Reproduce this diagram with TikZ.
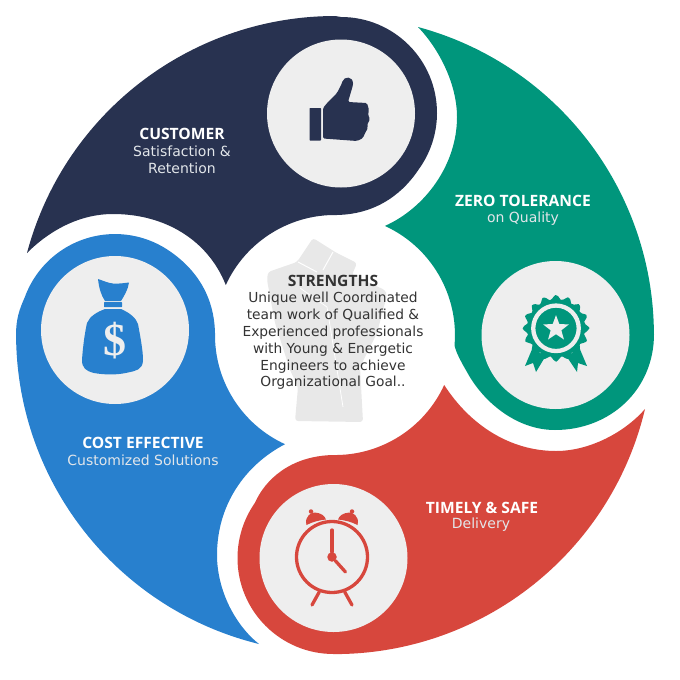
\documentclass[tikz,border=0pt]{standalone}
\usepackage{fontspec}
\usepackage{tikz}
\usetikzlibrary{shapes.geometric}
\setmainfont{DejaVu Sans}
\newfontfamily\headfont{Open Sans}
\newfontfamily\dollarfont{Liberation Serif}
\definecolor{navy}{HTML}{283250}
\definecolor{teal}{HTML}{00967C}
\definecolor{brick}{HTML}{D7473D}
\definecolor{azure}{HTML}{2880CE}
\definecolor{disc}{HTML}{EEEEEE}
\definecolor{fist}{HTML}{E8E8E8}
\definecolor{ink}{HTML}{333333}
\definecolor{soft}{HTML}{E2E6EA}
\tikzset{
  iconcircle/.style={draw=none, circle, fill=disc, minimum size=148pt, inner sep=0pt},
  headtxt/.style={font=\headfont\bfseries\fontsize{15.6}{18}\selectfont, text=white, inner sep=0pt},
  bodytxt/.style={font=\fontsize{14}{17}\selectfont, text=soft, align=center, inner sep=0pt},
  clockline/.style={draw=brick, line width=3.3pt, line cap=round}
}

\begin{document}
\begin{tikzpicture}[x=1pt, y=-1pt]
\useasboundingbox (0,0) rectangle (680,680);
\fill[navy] (27,253) arc[start angle=194.9, end angle=270, radius=319] -- (341,17) arc[start angle=270, end angle=396, radius=96] .. controls (405,190) and (380,214) .. (337,215) arc[start angle=271, end angle=204.6, radius=120] .. controls (208,240) and (165,214) .. (113,214) .. controls (80,214) and (50,230) .. (27,253) -- cycle;
\fill[teal] (418,27) arc[start angle=285.1, end angle=360, radius=319] -- (654,334) .. controls (654,390) and (610,430) .. (555,430) .. controls (515,430) and (482,400) .. (467,372) .. controls (460,360) and (456,352) .. (454.5,345.5) arc[start angle=5, end angle=-65.4, radius=120] .. controls (425,208) and (457,165) .. (457,117) .. controls (457,85) and (440,50) .. (418,27) -- cycle;
\fill[brick] (645,409) arc[start angle=13.4, end angle=90, radius=319] -- (333.5,654) arc[start angle=90, end angle=215, radius=96] .. controls (265,480) and (290,456) .. (333,455) arc[start angle=91, end angle=24.6, radius=120] .. controls (470,425) and (510,451) .. (556,451) .. controls (590,451) and (625,432) .. (645,409) -- cycle;
\fill[azure] (259,644) arc[start angle=103.8, end angle=180, radius=319] .. controls (16,320) and (19,310) .. (24.8,297.2) arc[start angle=200, end angle=304.7, radius=96] .. controls (190,265) and (214,290) .. (215,333) arc[start angle=181, end angle=114.6, radius=120] .. controls (245,465) and (217,505) .. (217,555) .. controls (217,590) and (235,625) .. (259,644) -- cycle;

\fill[fist, rounded corners=3pt] (295,421) -- (298,387) -- (290,370) -- (275,323) -- (267,280) -- (268,272) -- (297,262) -- (313,238) -- (332,250) -- (335,252) -- (357,263) -- (352,275) -- (385,290) -- (387,295) -- (377,333) -- (360,367) -- (363,422) -- cycle;
\draw[white, line width=1pt] (323,270) -- (333,252);
\draw[white, line width=1pt] (298,262) -- (317,272);
\draw[white, line width=.8pt] (300,288) -- (327,307) -- (343,407);

\node[iconcircle] (thumbdisc) at (341,113.5) {};
\node[iconcircle] (badgedisc) at (555.5,335) {};
\node[iconcircle] (clockdisc) at (333.5,558) {};
\node[iconcircle] (bagdisc) at (115,330) {};

\fill[navy, rounded corners=.6pt] (309.5,108) rectangle (321,140.5);
\fill[navy, rounded corners=1.5pt] (323,108) -- (328,102) -- (337,93) -- (342,83) .. controls (344,76) and (353,76) .. (353,85) -- (348,102) -- (367,103) -- (369,110) -- (368,115) -- (370,119) -- (367,125) -- (368,128) -- (365,133) -- (363,138) -- (357,141) -- (323,138.5) -- cycle;

\fill[teal] plot[smooth cycle, samples=65, domain=0:358, shift={(556,328.3)}] (\x:{31+2.4*cos(16*\x)});
\fill[teal] (533,347) -- (525,366) -- (533,363) -- (536,372) -- (545,357) -- cycle;
\fill[teal] (579,347) -- (587,366) -- (578,363) -- (577,372) -- (567,357) -- cycle;
\node[draw=disc, line width=4.3pt, circle, fill=teal, minimum size=45.5pt, inner sep=0pt] (badgering) at (556,328.3) {};
\node[star, star points=5, star point ratio=2.4, fill=disc, minimum size=27pt, inner sep=0pt] (badgestar) at (556,328.6) {};

\node[draw=brick, line width=3.3pt, circle, minimum size=71pt, inner sep=0pt] (clockface) at (332,557) {};
\node[circle, fill=brick, minimum size=9.5pt, inner sep=0pt] (clockhub) at (332,557) {};
\coordinate (handup) at (332,530);
\coordinate (handlow) at (345.5,572);
\coordinate (legleft) at (312,605);
\coordinate (legright) at (352,605);
\draw[clockline] (clockhub) -- (handup);
\draw[clockline] (clockhub) -- (handlow);
\draw[clockline] (clockface.250) -- (legleft);
\draw[clockline] (clockface.290) -- (legright);
\fill[brick] (306.5,525) .. controls (304,516) and (312,512) .. (315,512.5) .. controls (321,513) and (325,516) .. (326,519.5) .. controls (320,520) and (312,522) .. (306.5,525) -- cycle;
\fill[brick] (357.5,525) .. controls (360,516) and (352,512) .. (349,512.5) .. controls (343,513) and (339,516) .. (338,519.5) .. controls (344,520) and (352,522) .. (357.5,525) -- cycle;
\node[circle, fill=brick, minimum size=4.5pt, inner sep=0pt] (bellleft) at (311,511.5) {};
\node[circle, fill=brick, minimum size=4.5pt, inner sep=0pt] (bellright) at (352,511.5) {};

\fill[azure] (98,279) .. controls (104,281) and (108,283) .. (113,283.5) .. controls (119,284) and (124,283) .. (129,282.5) .. controls (128,290) and (124,296) .. (121,301) -- (105,301) .. controls (101,295) and (99,288) .. (98,279) -- cycle;
\fill[azure, rounded corners=.5pt] (104,302) rectangle (122,307);
\fill[azure] (105,309) -- (121,309) .. controls (130,313) and (136,318) .. (138,324) .. controls (140,335) and (143,350) .. (143,360) .. controls (143,370) and (135,371) .. (128,372.5) .. controls (118,375) and (105,375) .. (94,373) .. controls (86,371) and (82,368) .. (82,360) .. controls (83,345) and (85,332) .. (87,323) .. controls (90,316) and (97,312) .. (105,309) -- cycle;
\node[font=\dollarfont\bfseries\fontsize{46}{46}\selectfont, text=disc, inner sep=0pt] (bagdollar) at (115,341) {\$};

\node[font=\headfont\bfseries\fontsize{15.6}{18}\selectfont, text=ink, inner sep=0pt] (strengthshead) at (333,281) {STRENGTHS};
\node[font=\fontsize{13.8}{16.8}\selectfont, text=ink, align=center, inner sep=0pt] (strengthsbody) at (333,341) {Unique well Coordinated\\team work of Qualified \&\\Experienced professionals\\with Young \& Energetic\\Engineers to achieve\\Organizational Goal..};

\node[headtxt] (customerhead) at (182,134) {CUSTOMER};
\node[bodytxt] (customerbody) at (182,159.5) {Satisfaction \&\\Retention};
\node[headtxt] (zerohead) at (523,201) {ZERO TOLERANCE};
\node[bodytxt] (zerobody) at (523,219) {on Quality};
\node[headtxt] (costhead) at (143,443) {COST EFFECTIVE};
\node[bodytxt] (costbody) at (143,460.5) {Customized Solutions};
\node[headtxt] (timelyhead) at (482,508) {TIMELY \& SAFE};
\node[bodytxt] (timelybody) at (481,525) {Delivery};
\end{tikzpicture}
\end{document}
